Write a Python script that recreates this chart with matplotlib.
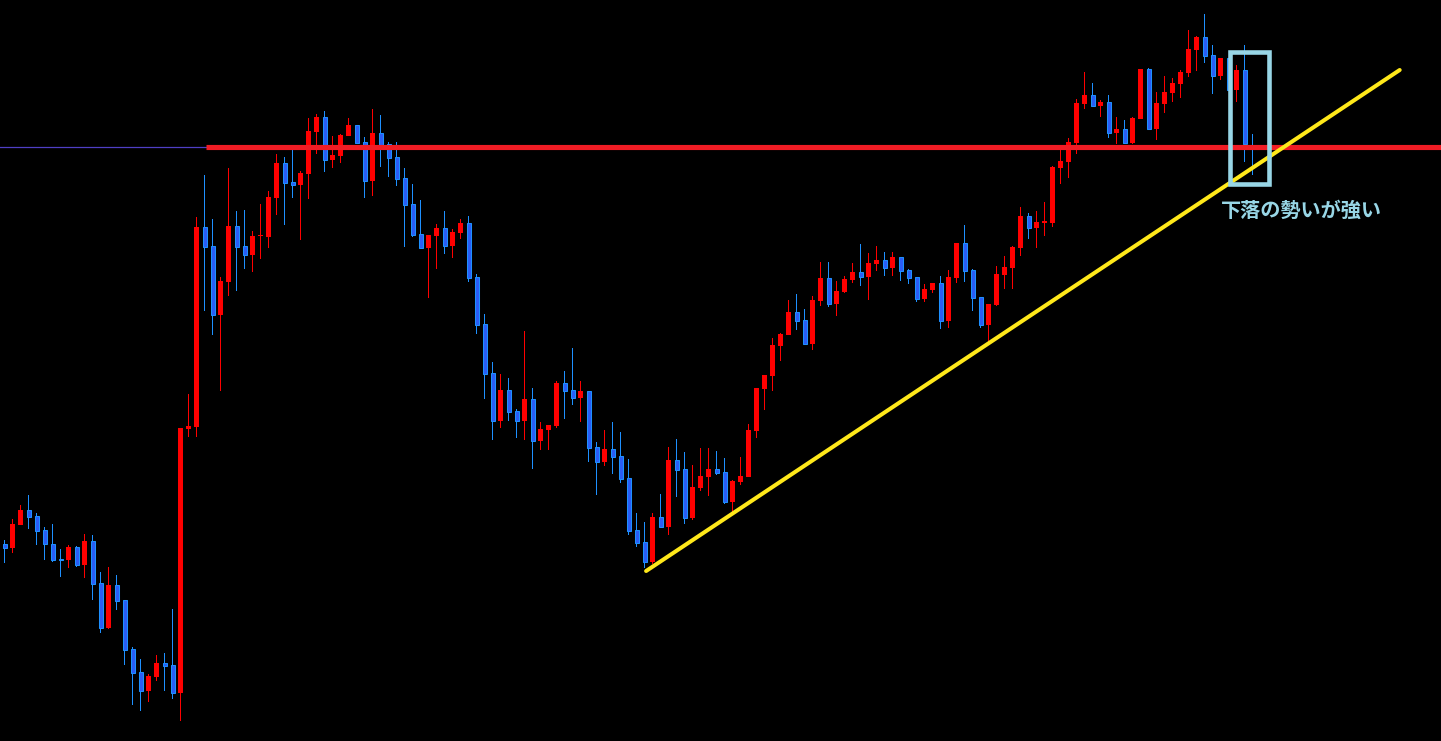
import matplotlib
matplotlib.use("Agg")
import matplotlib.pyplot as plt
from matplotlib.patches import Rectangle
import numpy as np

# Prices (arbitrary units, higher = up)
opens = [196.7, 193.3, 216.3, 230.7, 224.7, 210.7, 196.7, 181.7, 181.3, 194.0,
         176.0, 200.0, 157.7, 113.3, 156.0, 141.0, 92.0, 69.0, 50.3, 64.0,
         78.0, 76.0, 48.3, 312.3, 314.3, 514.0, 495.0, 426.3, 459.3, 515.0,
         495.0, 486.3, 504.7, 504.3, 543.3, 578.0, 559.0, 556.0, 567.3, 609.3,
         624.0, 581.3, 585.3, 605.3, 616.0, 599.0, 560.3, 608.0, 597.0, 584.0,
         563.0, 537.0, 507.0, 493.3, 505.3, 513.0, 495.3, 508.0, 518.0, 464.0,
         417.0, 368.0, 320.3, 351.0, 330.0, 320.3, 342.0, 300.3, 311.3, 315.3,
         358.0, 351.0, 343.3, 350.0, 294.0, 279.3, 292.0, 285.0, 263.0, 211.0,
         199.0, 179.3, 224.0, 214.3, 281.0, 272.0, 223.3, 253.3, 264.3, 272.0,
         269.0, 239.3, 259.3, 264.3, 310.3, 352.3, 365.3, 395.3, 406.3, 429.0,
         421.0, 397.3, 440.0, 463.0, 437.3, 449.3, 461.3, 469.0, 464.3, 477.3,
         481.0, 473.3, 484.0, 471.0, 464.0, 442.3, 451.0, 458.0, 420.3, 463.3,
         498.0, 471.0, 444.0, 416.3, 436.0, 466.0, 473.3, 493.3, 525.0, 513.3,
         518.5, 518.3, 573.3, 579.3, 598.3, 637.3, 646.0, 635.0, 639.0, 608.3,
         612.0, 598.3, 622.3, 672.0, 612.3, 637.3, 648.3, 657.3, 668.3, 691.3,
         704.0, 686.0, 665.3, 683.0, 651.3, 671.0, 595.0]
highs = [201.0, 221.7, 236.0, 246.0, 228.0, 214.0, 217.0, 192.0, 196.0, 195.0,
         207.0, 206.0, 169.0, 174.0, 166.0, 141.0, 94.0, 82.0, 67.0, 86.0,
         88.3, 132.0, 313.0, 347.0, 524.0, 566.0, 522.0, 464.0, 573.0, 530.0,
         531.0, 510.0, 537.0, 550.0, 587.0, 584.0, 591.0, 570.0, 623.0, 627.0,
         630.0, 605.0, 607.0, 623.0, 616.0, 604.0, 632.0, 626.0, 599.0, 599.0,
         573.0, 557.0, 541.0, 506.0, 517.0, 530.0, 511.7, 522.0, 525.0, 467.0,
         427.0, 379.0, 367.0, 363.0, 332.0, 410.0, 353.0, 319.0, 316.0, 360.0,
         370.0, 393.0, 360.0, 350.0, 299.0, 311.0, 319.0, 309.0, 282.0, 228.0,
         219.0, 228.0, 247.0, 294.0, 302.0, 289.0, 276.0, 293.0, 293.0, 290.0,
         283.0, 261.0, 284.0, 317.0, 353.0, 366.0, 403.0, 408.0, 441.0, 447.0,
         432.0, 445.0, 479.0, 479.0, 460.0, 465.0, 478.0, 497.0, 488.0, 495.0,
         489.0, 489.0, 484.0, 472.0, 464.0, 457.0, 458.0, 465.0, 471.0, 498.0,
         516.0, 472.0, 444.0, 437.0, 475.0, 485.0, 495.0, 534.0, 528.0, 530.0,
         539.0, 575.0, 592.0, 603.0, 642.0, 669.0, 658.0, 641.0, 646.0, 624.0,
         621.0, 624.0, 672.0, 673.0, 649.0, 665.0, 663.0, 671.0, 711.0, 705.0,
         727.0, 696.0, 683.0, 683.0, 676.0, 696.0, 607.0]
lows = [178.3, 188.3, 216.3, 212.3, 196.3, 181.0, 179.3, 164.3, 173.3, 174.3,
        163.3, 141.3, 108.3, 112.0, 131.3, 76.3, 36.3, 30.3, 39.3, 60.3,
        50.3, 42.3, 20.3, 304.3, 304.3, 430.3, 406.3, 350.3, 445.3, 450.3,
        472.3, 469.3, 482.3, 493.3, 526.0, 516.0, 543.3, 501.3, 542.3, 587.3,
        569.3, 573.3, 578.3, 605.3, 597.3, 543.3, 545.3, 574.3, 564.3, 555.3,
        494.3, 504.3, 493.3, 443.3, 472.0, 487.0, 483.3, 502.0, 459.3, 407.3,
        342.3, 301.3, 313.3, 320.3, 303.3, 301.3, 272.3, 291.3, 291.3, 313.3,
        322.3, 336.3, 319.3, 279.3, 246.3, 275.3, 267.3, 258.3, 206.3, 194.3,
        173.3, 176.7, 213.3, 206.3, 244.3, 217.3, 221.3, 250.3, 245.3, 266.3,
        237.3, 229.3, 256.3, 264.3, 303.3, 331.3, 350.3, 380.3, 406.3, 411.3,
        397.3, 391.0, 435.0, 434.3, 425.0, 448.0, 458.0, 455.0, 441.0, 470.0,
        465.0, 465.0, 460.0, 457.0, 439.0, 439.3, 448.0, 412.3, 413.3, 458.3,
        459.3, 430.3, 413.3, 399.3, 435.0, 452.0, 452.0, 485.3, 502.3, 493.3,
        505.3, 514.3, 557.3, 563.3, 587.3, 632.3, 635.3, 624.0, 603.3, 597.3,
        598.3, 597.3, 622.3, 612.3, 601.3, 628.3, 639.3, 643.3, 664.3, 670.3,
        678.3, 647.3, 661.3, 651.0, 639.3, 579.3, 566.0]
closes = [193.3, 217.0, 231.0, 224.3, 210.3, 196.7, 181.3, 181.3, 194.0, 176.3,
          200.0, 157.3, 113.3, 156.0, 140.3, 91.3, 68.3, 50.3, 65.3, 78.0,
          75.3, 48.3, 313.0, 315.0, 514.0, 494.3, 426.3, 460.0, 515.0, 494.3,
          486.3, 505.0, 505.0, 544.0, 578.0, 558.3, 556.3, 568.0, 610.0, 624.0,
          581.3, 586.0, 606.0, 616.0, 598.3, 560.3, 608.0, 595.0, 583.3, 562.3,
          536.3, 506.3, 493.3, 506.0, 513.0, 495.3, 509.0, 518.0, 463.3, 416.3,
          367.3, 320.3, 351.0, 329.3, 320.3, 342.0, 300.3, 312.0, 316.0, 358.0,
          350.3, 343.3, 350.0, 293.3, 279.3, 292.0, 284.3, 262.3, 210.3, 198.3,
          179.3, 224.0, 214.3, 281.0, 271.3, 223.3, 254.0, 265.0, 272.0, 268.3,
          239.3, 260.0, 265.0, 311.0, 353.0, 366.0, 396.0, 407.0, 429.0, 420.3,
          397.3, 441.0, 463.0, 437.3, 450.0, 462.0, 469.0, 464.3, 478.0, 481.0,
          473.3, 484.0, 470.3, 463.3, 442.3, 452.0, 458.0, 420.3, 464.0, 498.0,
          470.3, 443.3, 416.3, 437.0, 467.0, 474.0, 494.0, 525.0, 513.3, 519.0,
          518.7, 574.0, 580.0, 599.0, 638.0, 646.0, 635.3, 639.0, 608.3, 612.0,
          598.3, 623.0, 672.0, 612.3, 638.0, 649.0, 658.0, 669.0, 692.0, 704.0,
          685.3, 665.3, 683.0, 651.3, 671.0, 597.0, 594.0]

# Resistance level, trend line and the highlighted candles
resistance = 594.5
resistance_start = 25.2
trend_x = [80.2, 174.4]
trend_y = [170.0, 671.0]
box_x = [153.2, 158.0]
box_y = [556.7, 688.7]
note = "下落の勢いが強い"

up_color = "#ff0000"
down_fill = "#2b5cf5"
down_edge = "#1e90ff"

fig = plt.figure(figsize=(14.41, 7.41), dpi=100, facecolor="black")
ax = fig.add_axes([0, 0, 1, 1])
ax.set_facecolor("black")
ax.set_xlim(-0.5625, 179.5625)
ax.set_ylim(0, 741)
ax.axis("off")

o = np.array(opens)
h = np.array(highs)
l = np.array(lows)
c = np.array(closes)
x = np.arange(len(o))
up = c >= o

# one candle = 8 px, so a 1 px wick is 1/8 of a slot
ax.bar(x[up], h[up] - l[up], bottom=l[up], width=0.125, color=up_color, lw=0, zorder=2)
ax.bar(x[~up], h[~up] - l[~up], bottom=l[~up], width=0.125, color=down_edge, lw=0, zorder=2)

# bodies (at least one pixel tall so doji still show)
bottom = np.minimum(o, c)
height = np.maximum(np.abs(c - o), 1.2)
ax.bar(x[up], height[up], bottom=bottom[up], width=0.625, color=up_color,
       lw=0, zorder=3)
ax.bar(x[~up], height[~up], bottom=bottom[~up], width=0.5, color=down_fill,
       edgecolor=down_edge, lw=0.75, zorder=3)

# horizontal level: thin line on the left, thick red from the breakout on
ax.plot([-1, resistance_start], [resistance, resistance], color="#4f3fc4", lw=0.9, zorder=4)
ax.plot([resistance_start, 181], [resistance, resistance], color="#f01c24", lw=3.7,
        solid_capstyle="butt", zorder=5)

# trend line
ax.plot(trend_x, trend_y, color="#ffe81a", lw=2.9, solid_capstyle="round", zorder=6)

# box around the last candles + note
box = Rectangle((box_x[0], box_y[0]), box_x[1] - box_x[0], box_y[1] - box_y[0],
                fill=False, edgecolor="#98d6e6", lw=3.3, zorder=7)
ax.add_patch(box)
ax.text(152.1, 531, note, color="#98d6e6", fontsize=14.5, fontweight="bold",
        family=["Noto Sans CJK JP", "DejaVu Sans"], ha="left", va="center", zorder=8)

fig.savefig("out.png", dpi=100, facecolor="black")
